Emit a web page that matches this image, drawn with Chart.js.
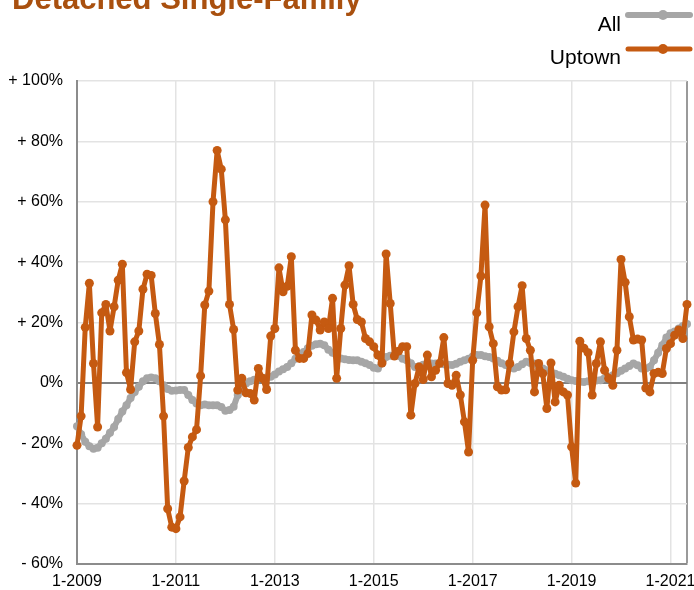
<!DOCTYPE html>
<html>
<head>
<meta charset="utf-8">
<script src="https://cdn.jsdelivr.net/npm/chart.js@4/dist/chart.umd.min.js"></script>
<style>
  html, body { margin: 0; padding: 0; background: #ffffff; }
  #wrap { width: 694px; height: 590px; position: relative; }
</style>
</head>
<body>
<div id="wrap"><canvas id="c" width="694" height="590"></canvas></div>
<script>
const titleText = "Detached Single-Family";
const seriesNames = ["All", "Uptown"];
const startYear = 2009;
const xTickMonths = [0, 24, 48, 72, 96, 120, 144];
const yTicks = [-60, -40, -20, 0, 20, 40, 60, 80, 100];

// Monthly year-over-year change (%), 1-2009 .. 5-2021
const allValues = [
  -14.4,-17,-19.5,-21,-21.8,-21.5,-20,-18.5,-16.5,-14.6,
  -12,-9.5,-7.4,-5,-3,-1.3,0.5,1.5,1.8,1.5,
  0.5,-0.8,-2,-2.6,-2.5,-2.4,-2.4,-4,-5.7,-6.8,
  -7.4,-7.2,-7.4,-7.4,-7.4,-8,-9.2,-9,-7.9,-4,
  -1.5,-0.2,0.5,1,1.5,1.6,1.8,2,2.8,3.8,
  4.5,5.3,6.5,8,9.2,10.2,11.5,12.3,12.8,13,
  12.5,11,10,9,8.1,7.8,7.6,7.5,7.5,7,
  6.5,5.9,5,4.8,6.5,8.6,9,9.2,9,8,
  7.5,6.5,5.3,5.5,6,6.4,6.4,6.4,6.4,6.2,
  6,5.9,6.3,7,7.5,8,8.7,9.2,9.2,8.8,
  8.6,8.1,7.3,6.5,5.9,5.3,4.8,5.3,6.2,7,
  6.6,6.4,5.5,4.8,4.2,3.6,3,2.5,2,1.4,
  0.9,0.6,0.4,0.3,0.5,0.6,0.8,0.9,1.5,2,
  2.5,3.2,4,4.8,5.6,6.4,5.8,4.8,4.8,5.3,
  7.5,10,12.5,15,16.4,17,18,18.8,19.5
];
const uptownValues = [
  -20.7,-11,18.4,33,6.4,-14.6,23.2,26,17.2,25.2,
  34,39.3,3.4,-2.2,13.6,17.2,31,36,35.6,23,
  12.7,-11,-41.7,-47.8,-48.3,-44.4,-32.5,-21.4,-17.9,-15.5,
  2.3,25.8,30.4,60,77,70.8,54,26,17.7,-2.4,
  1.5,-3.3,-3.5,-5.7,4.8,1.5,-2.2,15.5,18,38.1,
  30.2,32,41.8,10.8,8.1,8.1,9.7,22.5,20.8,17.5,
  20.2,18,28,1.5,18,32.4,38.8,26,21,20.2,
  14.7,13.6,12,9.2,6.6,42.7,26.3,8.9,10.5,12,
  12,-10.7,-0.2,5.3,1.1,9.2,2,4.2,6.5,15,
  -0.2,-0.8,2.5,-4,-12.9,-22.9,7.5,23.2,35.4,58.9,
  18.6,13,-1.3,-2.4,-2.3,6.4,16.9,25.2,32.2,14.7,
  10.8,-3,6.4,3.1,-8.5,6.6,-6.3,-0.8,-3,-4,
  -21.2,-33.2,13.8,11.5,10,-4,6.4,13.6,4.2,1.5,
  -0.8,10.8,40.9,33.3,21.9,14.2,14.5,14.2,-1.7,-3,
  3.1,3.5,3.1,11.4,13,15.8,17.5,14.7,26
];

const FONT = '"Liberation Sans", Arial, Helvetica, sans-serif';
const grayColor = '#A6A6A6';
const orangeColor = '#C55A11';
const titleColor = '#A9500F';
const lastIndex = allValues.length - 1;

function monthLabel(i) {
  return (i % 12 + 1) + '-' + (startYear + Math.floor(i / 12));
}
const allPoints = allValues.map((v, i) => ({ x: i, y: v }));
const uptownPoints = uptownValues.map((v, i) => ({ x: i, y: v }));

const overlay = {
  id: 'overlay',
  afterDraw(chart) {
    const ctx = chart.ctx;
    ctx.save();
    ctx.font = 'bold 31px ' + FONT;
    ctx.fillStyle = titleColor;
    ctx.textAlign = 'left';
    ctx.textBaseline = 'alphabetic';
    ctx.fillText(titleText, 12, 9);

    chart.data.datasets.forEach((ds, k) => {
      const yLine = 15 + k * 34;
      const yText = 31 + k * 33;
      ctx.font = '21px ' + FONT;
      ctx.fillStyle = '#000000';
      ctx.textAlign = 'right';
      ctx.fillText(ds.label, 621, yText);
      ctx.strokeStyle = ds.borderColor;
      ctx.lineWidth = ds.borderWidth;
      ctx.lineCap = 'round';
      ctx.beginPath();
      ctx.moveTo(628, yLine);
      ctx.lineTo(690, yLine);
      ctx.stroke();
      ctx.fillStyle = ds.borderColor;
      ctx.beginPath();
      ctx.arc(663, yLine, 5, 0, Math.PI * 2);
      ctx.fill();
    });
    ctx.restore();
  }
};

new Chart(document.getElementById('c'), {
  type: 'line',
  data: {
    datasets: [
      {
        label: seriesNames[0],
        data: allPoints,
        borderColor: grayColor,
        backgroundColor: grayColor,
        borderWidth: 6,
        borderJoinStyle: 'round',
        borderCapStyle: 'round',
        pointRadius: 4,
        pointBorderWidth: 0,
        pointBackgroundColor: grayColor,
        tension: 0,
        clip: 10,
        order: 2
      },
      {
        label: seriesNames[1],
        data: uptownPoints,
        borderColor: orangeColor,
        backgroundColor: orangeColor,
        borderWidth: 5,
        borderJoinStyle: 'round',
        borderCapStyle: 'round',
        pointRadius: 4.5,
        pointBorderWidth: 0,
        pointBackgroundColor: orangeColor,
        tension: 0,
        clip: 10,
        order: 1
      }
    ]
  },
  options: {
    responsive: false,
    devicePixelRatio: 1,
    animation: false,
    layout: { padding: { top: 81, right: 7, left: 0, bottom: 0 } },
    plugins: {
      legend: { display: false },
      title: { display: false },
      tooltip: { enabled: false }
    },
    scales: {
      x: {
        type: 'linear',
        min: 0,
        max: lastIndex,
        afterBuildTicks(scale) {
          scale.ticks = xTickMonths.concat([lastIndex]).map(v => ({ value: v }));
        },
        afterFit(scale) {
          scale.height = 26;
          scale.paddingLeft = 0;
          scale.paddingRight = 0;
        },
        ticks: {
          autoSkip: false,
          maxRotation: 0,
          padding: 8,
          color: '#000000',
          font: { family: FONT, size: 16 },
          callback: (v) => (xTickMonths.includes(v) ? monthLabel(v) : '')
        },
        grid: {
          drawTicks: false,
          color: (c) => (c.tick && c.tick.value === lastIndex ? '#9a9a9a' : '#e3e3e3'),
          lineWidth: (c) => (c.tick && c.tick.value === lastIndex ? 2 : 1.5)
        },
        border: { display: true, color: '#8c8c8c', width: 2 }
      },
      y: {
        min: -60,
        max: 100,
        afterBuildTicks(scale) {
          scale.ticks = yTicks.map(v => ({ value: v }));
        },
        afterFit(scale) {
          scale.width = 77;
        },
        ticks: {
          padding: 14,
          color: '#000000',
          font: { family: FONT, size: 16 },
          callback: (v) => (v > 0 ? '+ ' + v + '%' : v < 0 ? '- ' + Math.abs(v) + '%' : '0%')
        },
        grid: {
          drawTicks: false,
          color: (c) => (c.tick && c.tick.value === 0 ? '#808080' : '#e3e3e3'),
          lineWidth: (c) => (c.tick && c.tick.value === 0 ? 2 : 1.5)
        },
        border: { display: true, color: '#8c8c8c', width: 2 }
      }
    }
  },
  plugins: [overlay]
});
</script>
</body>
</html>
